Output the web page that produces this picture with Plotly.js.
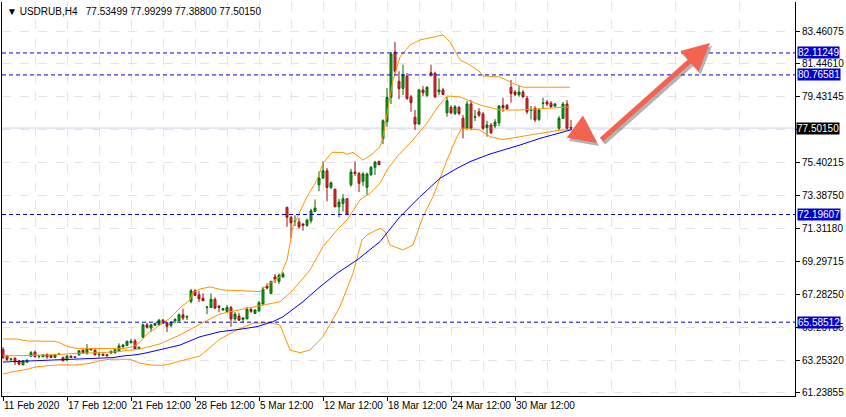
<!DOCTYPE html>
<html>
<head>
<meta charset="utf-8">
<script src="https://cdn.plot.ly/plotly-3.0.1.min.js"></script>
<style>html,body{margin:0;padding:0;background:#fff;}#chart{width:846px;height:417px;}</style>
</head>
<body>
<div id="chart"></div>
<script>
// ---- Candles (H4 bars, index 0 = first visible bar) ----
const barOpen = [63.91,63.52,63.30,63.36,63.21,62.97,63.13,63.50,63.75,63.50,63.46,63.62,63.56,63.42,63.60,63.42,63.26,63.50,63.46,63.58,
63.87,63.70,63.95,63.87,63.60,63.62,63.58,63.69,63.70,63.83,64.07,64.16,64.32,64.44,63.97,64.65,65.42,65.22,65.39,65.42,
65.71,65.55,65.39,65.67,65.67,66.04,65.90,66.86,67.51,67.27,67.06,66.49,66.49,66.98,66.57,66.33,66.25,66.49,65.79,65.96,
65.76,65.79,66.37,66.12,66.28,66.70,67.80,67.35,68.37,68.09,68.37,72.63,72.02,71.76,71.73,71.61,71.53,71.81,72.39,74.02,
74.43,74.88,73.86,73.74,72.67,72.88,73.16,74.02,74.80,74.72,74.23,73.86,74.64,75.09,75.46,76.85,77.91,79.39,82.17,80.37,
79.94,80.69,79.42,78.16,77.75,79.84,79.51,80.90,80.86,79.73,79.84,78.44,78.77,78.40,78.77,78.10,77.49,78.98,78.16,78.50,
78.36,77.54,77.69,77.63,77.83,78.89,78.89,80.00,79.71,79.55,79.71,79.33,78.59,78.71,78.04,79.01,79.10,79.02,78.85,77.49,
78.10,78.98,77.53499];
const barHigh = [64.05,63.58,63.38,63.44,63.27,63.25,63.28,63.81,63.83,63.58,63.60,63.64,63.58,63.63,63.70,63.46,63.58,63.54,63.48,63.85,
63.91,64.24,63.97,63.91,63.75,63.66,63.62,63.87,63.93,64.28,64.24,64.45,64.56,64.56,64.07,65.50,65.55,65.47,65.55,65.77,
65.79,65.59,65.63,65.83,66.12,66.41,66.00,67.63,67.63,67.51,67.35,66.57,67.35,67.11,66.62,66.45,66.65,66.57,66.20,66.16,
65.88,66.53,66.45,66.37,66.90,67.76,67.97,68.13,68.54,68.58,68.66,72.67,72.10,72.14,71.98,71.65,71.93,72.55,73.12,74.84,
75.46,75.05,74.23,73.78,73.16,73.45,73.20,75.00,75.46,74.80,74.80,74.76,75.17,75.49,75.49,78.04,79.96,82.17,82.79,80.99,
81.39,80.88,79.53,78.61,79.91,80.08,80.08,81.39,80.96,80.55,79.96,79.42,78.91,78.91,78.85,78.30,79.16,79.22,78.61,78.73,
78.48,77.95,77.81,78.05,78.91,79.36,78.98,80.45,79.84,80.08,79.84,79.47,78.85,78.85,78.73,79.36,79.22,79.16,79.04,78.24,
79.10,79.22,77.99299];
const barLow = [63.32,63.21,63.20,62.95,62.93,62.93,63.11,63.46,63.42,63.36,63.44,63.34,63.40,63.38,63.56,63.19,63.21,63.40,63.38,63.54,
63.66,63.58,63.87,63.54,63.42,63.52,63.50,63.66,63.66,63.79,64.03,64.12,64.28,63.91,63.95,64.60,65.18,64.98,65.37,65.40,
65.47,64.98,65.27,65.51,65.65,65.71,65.71,66.74,67.19,66.82,66.88,66.08,66.47,66.41,66.20,66.30,66.20,65.30,65.67,65.67,
65.55,65.76,66.16,66.08,66.20,66.65,67.60,67.30,67.99,67.92,68.29,71.44,70.75,71.48,71.32,71.20,71.44,71.65,72.34,73.62,
74.39,73.00,73.77,72.63,72.02,72.39,72.16,73.90,74.56,73.57,73.94,73.41,74.56,74.63,75.23,76.52,77.58,78.98,80.86,79.27,
79.53,79.22,78.50,77.38,77.69,79.47,79.40,80.65,79.33,79.53,79.53,78.19,78.36,78.30,78.30,76.87,77.38,77.38,77.93,78.18,
77.38,76.97,77.14,77.50,77.62,78.50,78.61,79.06,79.47,79.42,79.34,78.36,78.04,77.87,77.93,78.71,78.85,78.73,78.79,77.38,
78.06,77.38,77.38800];
const barClose = [63.42,63.30,63.33,63.15,63.01,63.21,63.26,63.71,63.46,63.52,63.58,63.46,63.42,63.61,63.62,63.21,63.50,63.42,63.42,63.83,
63.70,63.95,63.89,63.58,63.62,63.54,63.52,63.79,63.89,64.12,64.18,64.41,64.42,63.95,64.05,65.42,65.27,65.42,65.51,65.71,
65.51,65.34,65.59,65.75,66.04,65.84,65.93,67.51,67.23,67.02,66.90,66.51,66.99,66.45,66.49,66.41,66.49,65.79,66.08,65.71,
65.84,66.37,66.25,66.33,66.78,67.63,67.68,68.09,68.21,68.46,68.54,72.02,71.69,71.78,71.44,71.53,71.85,72.43,72.59,74.43,
74.88,73.86,74.14,72.67,72.96,73.16,72.22,74.80,74.72,74.11,74.68,74.68,75.09,75.41,75.25,77.95,79.39,82.05,80.99,79.92,
80.76,79.33,79.06,77.75,79.84,79.67,80.00,80.78,79.42,79.84,79.57,79.18,78.44,78.81,78.40,77.49,78.98,77.49,78.19,78.30,
77.49,77.69,77.21,77.87,78.85,78.75,78.69,79.63,79.57,79.71,79.42,78.50,78.61,78.00,78.61,79.03,78.98,78.81,78.98,78.10,
78.98,77.49,77.50150];

// ---- Bollinger bands (orange), at bar positions ----
const upperIdx = [0,3.5,6,13,14.25,16.25,18.5,24.25,30,32.5,34.25,36,39.25,41.75,44.25,46.75,47.5,49.25,51.75,55,59.25,64.25,66,69.25,71,72.5,76,78.5,80,82.25,85,86,87.5,90,92.25,94.25,95,96,97.5,99.25,101.75,104.25,107.5,110,111.75,114.25,116.75,119.25,120,124.25,127.5,130,141.75];
const upperVal = [64.55,64.55,64.43,64.41,64.31,64.08,63.98,63.98,63.96,64.08,64.37,64.86,65.41,65.84,66.46,66.95,67.44,67.62,67.75,67.56,67.52,67.46,67.87,68.38,69.40,71.45,73.29,74.31,75.34,76.01,76.01,75.89,76.01,75.54,75.89,76.36,76.97,78.30,80.45,81.87,82.60,82.91,83.11,83.22,82.79,81.68,81.37,80.94,80.70,80.64,80.25,80.01,80.01];
const midIdx = [0,11,19.25,24.25,29.25,34.25,39.25,44.25,49.25,54.25,61,65,69.25,72.5,76.75,80,83.5,86,89.25,91.75,94.25,96,98.5,102.5,106,108.5,111,114.25,116,119.25,124.25,129.25,135,141.75];
const midVal = [63.51,63.57,63.68,63.71,63.79,63.94,64.25,64.80,65.47,66.09,66.44,66.64,66.84,67.56,68.79,70.22,71.24,71.86,73.09,73.50,74.11,74.93,75.74,76.77,77.81,78.73,79.47,79.41,79.23,78.92,78.61,78.61,78.70,78.80];
const lowerIdx = [0,2.5,6,8.5,13.5,18.5,21.75,24.25,26.75,31.75,34.25,37.5,40,41.75,44.25,49.25,54.25,58.5,62.5,66.75,69.25,70.5,71.75,74.25,76.75,80,84.25,87.5,89.75,91,94.25,95.5,96.75,100,102.5,105,107.5,111,113.5,114.75,116.75,119.25,121.75,125,129.25,134.25,138.5,141.75];
const lowerVal = [62.40,62.55,62.69,62.85,62.96,62.96,63.06,63.22,63.31,63.31,63.06,62.94,62.94,63.02,63.20,63.51,64.55,65.11,65.52,65.55,65.41,64.69,63.88,63.71,63.88,64.69,66.54,68.59,70.63,70.94,71.35,71.14,70.32,70.02,70.32,72.06,73.29,75.54,76.97,77.51,77.45,77.38,76.97,76.80,76.97,77.20,77.35,77.41];

// ---- Moving average (blue) ----
const maIdx = [0,6.75,14.25,22.5,27.5,30,33.5,36,39.25,44.25,49.25,54.25,59.25,63.5,67.5,70,75,79.25,83.5,88.5,94.25,99.25,104.25,109.25,113.5,116.75,121.75,126,129.25,134.25,138.5,142.25];
const maVal = [63.14,63.20,63.26,63.33,63.41,63.51,63.59,63.71,63.91,64.18,64.69,65.00,65.15,65.31,65.62,65.92,66.84,67.76,68.59,69.40,70.53,72.06,73.29,74.42,75.03,75.44,75.91,76.20,76.46,76.87,77.14,77.41];

// ---- Horizontal levels ----
const levelLines = [82.11249, 80.76581, 72.19607, 65.58512];
const levelLabels = ['82.11249','80.76581','72.19607','65.58512'];
const lastPrice = 77.50150;
const lastPriceLabel = '77.50150';

// ---- Axis ticks ----
const yTickVals = [83.46075,81.44610,79.43145,77.41680,75.40215,73.38750,71.31180,69.29715,67.28250,65.26785,63.25320,61.23855];
const yTickText = ['83.46075','81.44610','79.43145','','75.40215','73.38750','71.31180','69.29715','67.28250','65.26785','63.25320','61.23855'];
const xTickVals = [0,16,32,48,64,80,96,112,128];
const xTickText = ['11 Feb 2020','17 Feb 12:00','21 Feb 12:00','28 Feb 12:00','5 Mar 12:00','12 Mar 12:00','18 Mar 12:00','24 Mar 12:00','30 Mar 12:00'];
const xMinorGrid = [8,24,40,56,72,88,104,120,136,152,168,184];

// ---- Hand-drawn arrows (bar index, price) ----
const arrowFrom = [[143.75, 77.44],[149.25, 76.71]];
const arrowTo   = [[148.5, 76.59],[176.75, 82.72]];

const titleText = '\u25BC USDRUB,H4\u00a0\u00a0 77.53499 77.99299 77.38800 77.50150';

const barIndex = barOpen.map((_, i) => i);
const FONT = 'Liberation Sans, Arial, sans-serif';
const ORANGE = '#ff9400';

const traces = [
  {type:'candlestick', x:barIndex, open:barOpen, high:barHigh, low:barLow, close:barClose,
   increasing:{line:{color:'#006a00', width:1}, fillcolor:'#1e9e1e'},
   decreasing:{line:{color:'#9a1010', width:1}, fillcolor:'#e23a3a'},
   whiskerwidth:0, hoverinfo:'skip', showlegend:false},
  {type:'scatter', mode:'lines', x:upperIdx, y:upperVal, line:{color:ORANGE, width:1}, hoverinfo:'skip', showlegend:false},
  {type:'scatter', mode:'lines', x:midIdx, y:midVal, line:{color:ORANGE, width:1}, hoverinfo:'skip', showlegend:false},
  {type:'scatter', mode:'lines', x:lowerIdx, y:lowerVal, line:{color:ORANGE, width:1}, hoverinfo:'skip', showlegend:false},
  {type:'scatter', mode:'lines', x:maIdx, y:maVal, line:{color:'#0000ff', width:1}, hoverinfo:'skip', showlegend:false}
];

const shapes = [];
shapes.push({type:'line', xref:'paper', x0:0, x1:1, yref:'y', y0:lastPrice, y1:lastPrice, layer:'below',
  line:{color:'#d2d2e6', width:1}});
levelLines.forEach(v => shapes.push({type:'line', xref:'paper', x0:0, x1:1, yref:'y', y0:v, y1:v, layer:'above',
  line:{color:'#0000cc', width:1, dash:'4px,3px'}}));

const annotations = [];
annotations.push({xref:'paper', yref:'paper', x:0, y:1, xanchor:'left', yanchor:'top', xshift:3, yshift:-2,
  text:titleText, showarrow:false, font:{family:FONT, size:10, color:'#000'}});
// x-axis labels, left-aligned at their tick like the original terminal
xTickVals.forEach((v, k) => annotations.push({xref:'x', x:v, yref:'paper', y:0, xanchor:'left', yanchor:'top',
  xshift:-1, yshift:-2, text:xTickText[k], showarrow:false, font:{family:FONT, size:10, color:'#000'}}));
levelLines.forEach((v, k) => annotations.push({xref:'paper', x:1, xanchor:'left', xshift:2, yref:'y', y:v,
  text:levelLabels[k], showarrow:false, bgcolor:'#0000cc', borderpad:0, font:{family:FONT, size:10, color:'#fff'}}));
annotations.push({xref:'paper', x:1, xanchor:'left', xshift:1, yref:'y', y:lastPrice,
  text:lastPriceLabel, showarrow:false, bgcolor:'#000', borderpad:0, font:{family:FONT, size:10, color:'#fff'}});
arrowFrom.forEach((p, k) => {
  const q = arrowTo[k];
  annotations.push({x:q[0], y:q[1], ax:p[0], ay:p[1], xref:'x', yref:'y', axref:'x', ayref:'y', text:'',
    showarrow:true, arrowhead:2, arrowsize:1.1, arrowwidth:5, arrowcolor:'rgba(90,90,90,0.45)', xshift:2, yshift:-3});
  annotations.push({x:q[0], y:q[1], ax:p[0], ay:p[1], xref:'x', yref:'y', axref:'x', ayref:'y', text:'',
    showarrow:true, arrowhead:2, arrowsize:1.1, arrowwidth:5, arrowcolor:'#f3634f'});
});

const layout = {
  width:846, height:417,
  margin:{l:2, r:51, t:2, b:21, pad:0},
  paper_bgcolor:'#ffffff', plot_bgcolor:'#ffffff',
  font:{family:FONT, size:10, color:'#000'},
  showlegend:false,
  xaxis:{type:'linear', range:[-0.25, 198], rangeslider:{visible:false},
    tickmode:'array', tickvals:xTickVals, showticklabels:false,
    ticks:'outside', ticklen:4, tickcolor:'#000',
    showgrid:true, gridcolor:'#e2e2f0', griddash:'dash', gridwidth:1,
    minor:{tickmode:'array', tickvals:xMinorGrid, showgrid:true, gridcolor:'#e2e2f0', griddash:'dash', ticks:''},
    showline:true, linecolor:'#000', linewidth:1, mirror:false, zeroline:false, fixedrange:true, automargin:false},
  yaxis:{side:'right', range:[61.053, 85.241],
    tickmode:'array', tickvals:yTickVals, ticktext:yTickText,
    ticks:'outside', ticklen:4, tickcolor:'#000', tickfont:{family:FONT, size:10, color:'#000'},
    showgrid:true, gridcolor:'#e2e2f0', griddash:'dash', gridwidth:1,
    showline:true, linecolor:'#000', linewidth:1, mirror:true, zeroline:false, fixedrange:true, automargin:false},
  shapes:shapes,
  annotations:annotations
};

Plotly.newPlot('chart', traces, layout, {staticPlot:true, displayModeBar:false});
</script>
</body>
</html>
